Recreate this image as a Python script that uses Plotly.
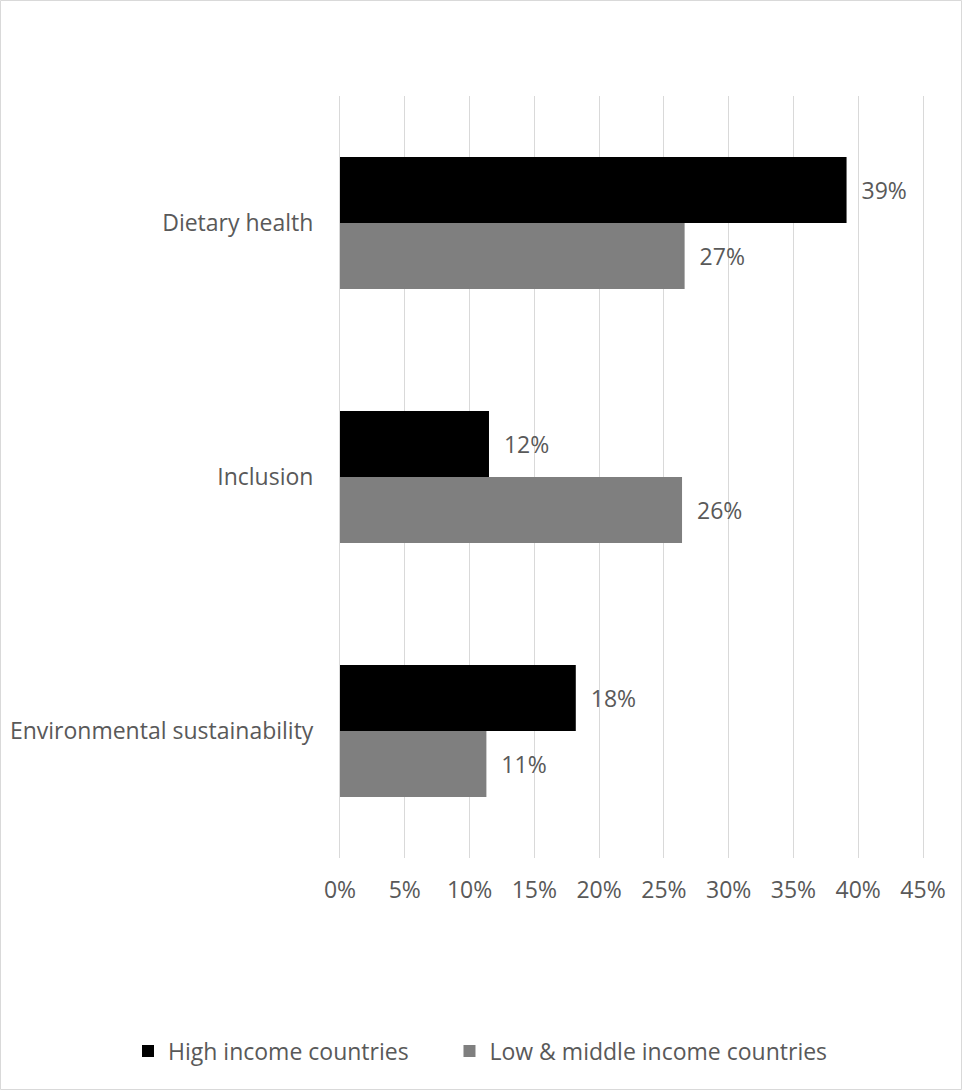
import plotly.graph_objects as go

categories = ["Dietary health", "Inclusion", "Environmental sustainability"]
high_income = [39.1, 11.5, 18.2]
low_middle_income = [26.6, 26.4, 11.3]
series_names = ["High income countries", "Low & middle income countries"]
tick_vals = [0, 5, 10, 15, 20, 25, 30, 35, 40, 45]
tick_text = ["0%", "5%", "10%", "15%", "20%", "25%", "30%", "35%", "40%", "45%"]

W, H = 962, 1090
L, R, T, B = 340, 39, 96, 232
FONT = "Open Sans, sans-serif"
FS = 23
TXT = "#595959"
GRID = "#d9d9d9"

fig = go.Figure()
legend_labels = [series_names[0] + "\u00a0" * 6, series_names[1]]
for lab, vals, col in [(legend_labels[0], high_income, "#000000"),
                       (legend_labels[1], low_middle_income, "#7f7f7f")]:
    fig.add_trace(go.Bar(
        y=categories, x=vals, name=lab, orientation="h",
        marker=dict(color=col, line=dict(width=0)),
        text=["  %d%%" % round(v) for v in vals],
        textposition="outside", cliponaxis=False,
        textfont=dict(family=FONT, size=FS, color=TXT),
    ))

pw = W - L - R
ph = H - T - B
fig.add_shape(type="rect", xref="paper", yref="paper",
              x0=(0.5 - L) / pw, x1=(W - 0.5 - L) / pw,
              y0=-(B - 0.5) / ph, y1=(ph + T - 0.5) / ph,
              line=dict(color=GRID, width=1), layer="below")

fig.update_layout(
    width=W, height=H,
    margin=dict(l=L, r=R, t=T, b=B, autoexpand=False),
    paper_bgcolor="white", plot_bgcolor="white",
    barmode="group", bargap=0.48, bargroupgap=0,
    font=dict(family=FONT, size=FS, color=TXT),
    showlegend=True,
    legend=dict(orientation="h", x=(128 - L) / pw, xanchor="left",
                y=-(1051 - T - ph) / ph, yanchor="middle",
                font=dict(family=FONT, size=FS, color=TXT),
                traceorder="normal"),
    xaxis=dict(range=[0, 45], tickvals=tick_vals, ticktext=tick_text,
               showgrid=True, gridcolor=GRID, gridwidth=1,
               zeroline=False, showline=False, ticks="",
               ticklabelstandoff=16,
               tickfont=dict(family=FONT, size=FS, color=TXT)),
    yaxis=dict(autorange="reversed", showgrid=False, zeroline=False,
               showline=True, mirror=True, linecolor=GRID, linewidth=1,
               ticks="", ticklabelstandoff=21,
               tickfont=dict(family=FONT, size=FS, color=TXT)),
)

fig.write_html("out.html")
